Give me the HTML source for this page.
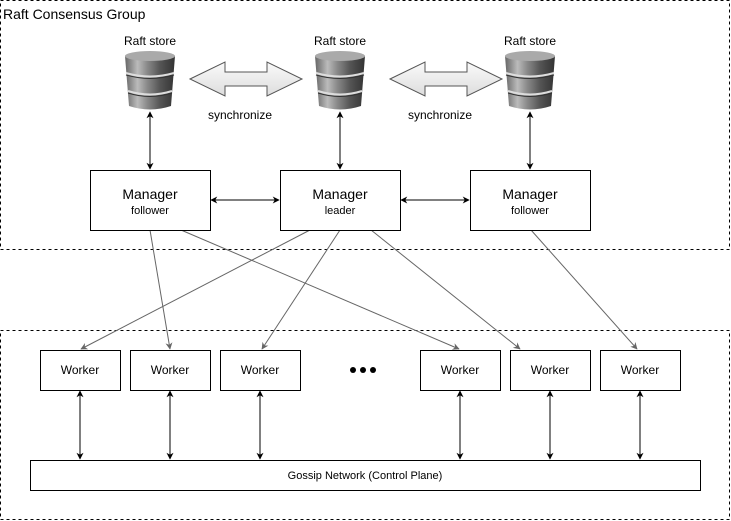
<!DOCTYPE html>
<html><head><meta charset="utf-8"><style>
html,body{margin:0;padding:0;background:#fff;}
svg{display:block;font-family:"Liberation Sans",Helvetica,Arial,sans-serif;}
</style></head><body>
<svg width="731" height="521" viewBox="0 0 731 521" xmlns="http://www.w3.org/2000/svg">
<defs>
<marker id="ab" viewBox="0 0 10 10" refX="9" refY="5" markerWidth="7" markerHeight="7" orient="auto-start-reverse"><path d="M0,0 L10,5 L0,10 L3,5 z" fill="#000"/></marker>
<marker id="ag" viewBox="0 0 10 10" refX="9" refY="5" markerWidth="7" markerHeight="7" orient="auto"><path d="M0,0 L10,5 L0,10 L3,5 z" fill="#666"/></marker>
<linearGradient id="cg" x1="0" x2="1">
<stop offset="0" stop-color="#666"/><stop offset="0.25" stop-color="#bbb"/><stop offset="0.45" stop-color="#888"/><stop offset="0.7" stop-color="#555"/><stop offset="1" stop-color="#333"/></linearGradient>
<linearGradient id="bg" x1="0" y1="0" x2="0" y2="1"><stop offset="0" stop-color="#fafafa"/><stop offset="1" stop-color="#ddd"/></linearGradient>
<g id="cyl">
<path d="M-25,-26 Q0,-33 25,-26 L21,24 Q0,31 -21,24 Z" fill="url(#cg)"/>
<ellipse cx="0" cy="-26" rx="25" ry="5" fill="#aaa"/>
<path d="M-24,-9 Q0,-2 24,-9" stroke="#ddd" stroke-width="2" fill="none"/>
<path d="M-24,-7 Q0,0 24,-7" stroke="#333" stroke-width="1" fill="none"/>
<path d="M-22,9 Q0,16 22,9" stroke="#ddd" stroke-width="2" fill="none"/>
<path d="M-22,11 Q0,18 22,11" stroke="#333" stroke-width="1" fill="none"/>
</g>
<path id="barrow" d="M0,0 L35,-17 L35,-7 L77,-7 L77,-17 L112,0 L77,17 L77,7 L35,7 L35,17 Z" fill="url(#bg)" stroke="#555" stroke-width="1"/>
</defs>

<rect x="0.5" y="0.5" width="729" height="249" fill="none" stroke="#000" stroke-dasharray="3,3"/>
<rect x="0.5" y="330.5" width="729" height="189" fill="none" stroke="#000" stroke-dasharray="3,3"/>
<text x="3" y="19" font-size="14">Raft Consensus Group</text>

<g font-size="12" text-anchor="middle">
<text x="150" y="45">Raft store</text><text x="340" y="45">Raft store</text><text x="530" y="45">Raft store</text>
<text x="240" y="119">synchronize</text><text x="440" y="119">synchronize</text>
</g>
<use href="#cyl" x="150" y="82"/><use href="#cyl" x="340" y="82"/><use href="#cyl" x="530" y="82"/>
<use href="#barrow" x="190" y="79"/><use href="#barrow" x="390" y="79"/>

<g stroke="#000" stroke-width="1" marker-start="url(#ab)" marker-end="url(#ab)">
<line x1="150" y1="112" x2="150" y2="169"/><line x1="340" y1="112" x2="340" y2="169"/><line x1="530" y1="112" x2="530" y2="169"/>
<line x1="211" y1="200" x2="279" y2="200"/><line x1="401" y1="200" x2="469" y2="200"/>
<line x1="80" y1="391" x2="80" y2="459"/><line x1="170" y1="391" x2="170" y2="459"/><line x1="260" y1="391" x2="260" y2="459"/>
<line x1="460" y1="391" x2="460" y2="459"/><line x1="550" y1="391" x2="550" y2="459"/><line x1="640" y1="391" x2="640" y2="459"/>
</g>

<g stroke="#666" stroke-width="1" marker-end="url(#ag)">
<line x1="150" y1="230" x2="170" y2="349"/>
<line x1="181" y1="230" x2="459" y2="349"/>
<line x1="310" y1="230" x2="81" y2="349"/>
<line x1="340" y1="230" x2="262" y2="349"/>
<line x1="371" y1="230" x2="520" y2="349"/>
<line x1="531" y1="230" x2="637" y2="349"/>
</g>

<g fill="#fff" stroke="#000">
<rect x="90.5" y="170.5" width="120" height="60"/><rect x="280.5" y="170.5" width="120" height="60"/><rect x="470.5" y="170.5" width="120" height="60"/>
<rect x="40.5" y="350.5" width="80" height="40"/><rect x="130.5" y="350.5" width="80" height="40"/><rect x="220.5" y="350.5" width="80" height="40"/>
<rect x="420.5" y="350.5" width="80" height="40"/><rect x="510.5" y="350.5" width="80" height="40"/><rect x="600.5" y="350.5" width="80" height="40"/>
<rect x="30.5" y="460.5" width="670" height="30"/>
</g>
<g text-anchor="middle">
<text x="150" y="199" font-size="14">Manager</text><text x="150" y="214" font-size="11">follower</text>
<text x="340" y="199" font-size="14">Manager</text><text x="340" y="214" font-size="11">leader</text>
<text x="530" y="199" font-size="14">Manager</text><text x="530" y="214" font-size="11">follower</text>
<g font-size="12">
<text x="80" y="374">Worker</text><text x="170" y="374">Worker</text><text x="260" y="374">Worker</text>
<text x="460" y="374">Worker</text><text x="550" y="374">Worker</text><text x="640" y="374">Worker</text>
</g>
<text x="365" y="479" font-size="11">Gossip Network (Control Plane)</text>
</g>
<circle cx="353" cy="370" r="3"/><circle cx="363" cy="370" r="3"/><circle cx="373" cy="370" r="3"/>
</svg>
</body></html>
